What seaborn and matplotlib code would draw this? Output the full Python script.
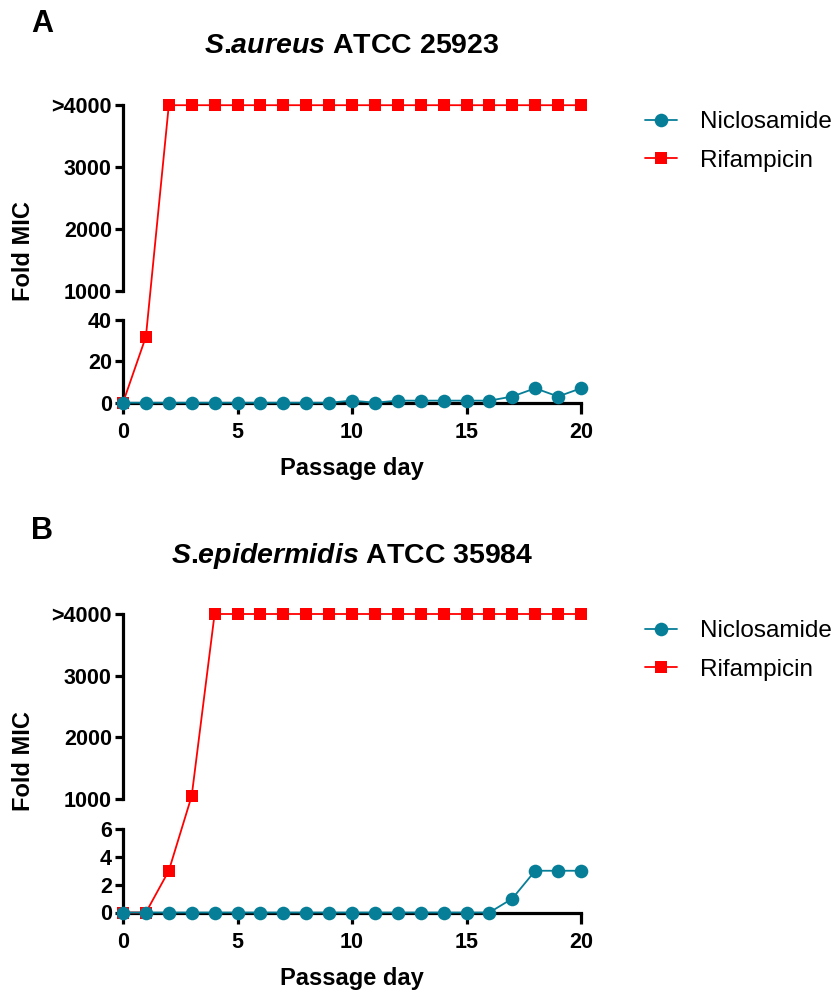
import numpy as np
import matplotlib
matplotlib.use("Agg")
import matplotlib.pyplot as plt
import seaborn as sns
from matplotlib.spines import Spine

# ---- data -------------------------------------------------------------
days = [0, 1, 2, 3, 4, 5, 6, 7, 8, 9, 10, 11, 12, 13, 14, 15, 16, 17, 18, 19, 20]

aureus_niclosamide = [0, 0, 0, 0, 0, 0, 0, 0, 0, 0, 1, 0, 1, 1, 1, 1, 1, 3, 7, 3, 7]
aureus_rifampicin = [0, 32, 4000, 4000, 4000, 4000, 4000, 4000, 4000, 4000, 4000,
                     4000, 4000, 4000, 4000, 4000, 4000, 4000, 4000, 4000, 4000]

epi_niclosamide = [0, 0, 0, 0, 0, 0, 0, 0, 0, 0, 0, 0, 0, 0, 0, 0, 0, 1, 3, 3, 3]
epi_rifampicin = [0, 0, 3, 1050, 4000, 4000, 4000, 4000, 4000, 4000, 4000,
                  4000, 4000, 4000, 4000, 4000, 4000, 4000, 4000, 4000, 4000]

aureus_yticks = [0, 20, 40, 1000, 2000, 3000, 4000]
aureus_ylabels = ["0", "20", "40", "1000", "2000", "3000", ">4000"]
epi_yticks = [0, 2, 4, 6, 1000, 2000, 3000, 4000]
epi_ylabels = ["0", "2", "4", "6", "1000", "2000", "3000", ">4000"]
x_ticks = [0, 5, 10, 15, 20]

series_names = ["Niclosamide", "Rifampicin"]

# ---- style ------------------------------------------------------------
sns.set_style("ticks")
plt.rcParams["font.family"] = ["Liberation Sans", "DejaVu Sans"]
plt.rcParams["mathtext.fontset"] = "custom"
plt.rcParams["mathtext.it"] = "Liberation Sans:italic:bold"
plt.rcParams["mathtext.rm"] = "Liberation Sans:bold"
for key in ("text.color", "axes.labelcolor", "xtick.color", "ytick.color",
            "axes.edgecolor"):
    plt.rcParams[key] = "black"

TEAL = "#077e97"
RED = "#ff0000"
SPINE_W = 2.3
TICK_FS = 15.5

W, H = 838, 994
fig = plt.figure(figsize=(W / 100, H / 100), dpi=100)


def broken_scale(lo_top, up_bot, up_top, lo_len, gap_len, up_len):
    """Piecewise-linear y scale: [0, lo_top] and [up_bot, up_top] with a gap."""
    xp = np.array([0.0, lo_top, up_bot, up_top])
    fp = np.array([0.0, lo_len, lo_len + gap_len, lo_len + gap_len + up_len])
    lo_slope = lo_len / lo_top
    up_slope = up_len / (up_top - up_bot)

    def fwd(y):
        y = np.asarray(y, dtype=float)
        out = np.interp(y, xp, fp)
        out = np.where(y < xp[0], y * lo_slope, out)
        out = np.where(y > xp[-1], fp[-1] + (y - xp[-1]) * up_slope, out)
        return out

    def inv(v):
        v = np.asarray(v, dtype=float)
        out = np.interp(v, fp, xp)
        out = np.where(v < fp[0], v / lo_slope, out)
        out = np.where(v > fp[-1], xp[-1] + (v - fp[-1]) / up_slope, out)
        return out

    return fwd, inv


def px_box(left, right, bottom, top):
    return [left / W, 1 - bottom / H, (right - left) / W, (bottom - top) / H]


def draw_panel(box, nic, rif, lo_top, lo_len, gap_len, up_len,
               yticks, ylabels, title, letter, letter_y, title_y,
               ylabel_y, xlabel_y, legend_top):
    ax = fig.add_axes(box)

    line_kw = dict(ax=ax, linewidth=1.3, clip_on=False, errorbar=None,
                   markeredgewidth=0, legend=False)
    sns.lineplot(x=days, y=rif, color=RED, marker="s", markersize=9.2,
                 markeredgecolor=RED, zorder=3, **line_kw)
    rif_line = ax.lines[-1]
    sns.lineplot(x=days, y=nic, color=TEAL, marker="o", markersize=9.8,
                 markeredgecolor=TEAL, zorder=4, **line_kw)
    nic_line = ax.lines[-1]

    ax.set_yscale("function",
                  functions=broken_scale(lo_top, 1000, 4000, lo_len, gap_len, up_len))
    ax.set_ylim(0, 4000)
    ax.set_xlim(0, 20)

    # axis lines: lower and upper segments of the broken y axis
    sns.despine(ax=ax)
    for side in ("left", "bottom"):
        ax.spines[side].set_linewidth(SPINE_W)
        ax.spines[side].set_color("black")
    ax.spines["left"].set_bounds(0, lo_top)
    upper = Spine.linear_spine(ax, "left")
    upper.set_linewidth(SPINE_W)
    upper.set_color("black")
    upper.set_bounds(1000, 4000)
    ax.spines["left_upper"] = upper

    ax.set_yticks(yticks)
    ax.set_yticklabels(ylabels, fontweight="bold", fontsize=TICK_FS)
    ax.set_xticks(x_ticks)
    ax.set_xticklabels([str(t) for t in x_ticks], fontweight="bold", fontsize=TICK_FS)
    ax.minorticks_off()
    ax.tick_params(axis="y", length=5.5, width=SPINE_W, pad=2.5,
                   color="black", labelcolor="black")
    ax.tick_params(axis="x", length=8, width=SPINE_W, pad=6,
                   color="black", labelcolor="black")

    ax.set_ylabel("Fold MIC", fontsize=17, fontweight="bold", va="center")
    ax.yaxis.set_label_coords(24 / W, 1 - ylabel_y / H, transform=fig.transFigure)
    ax.set_xlabel("Passage day", fontsize=17, fontweight="bold", va="center")
    ax.xaxis.set_label_coords(352 / W, 1 - xlabel_y / H, transform=fig.transFigure)

    fig.text(352 / W, 1 - title_y / H, title, fontsize=20.5, fontweight="bold",
             ha="center", va="center")
    fig.text(42 / W, 1 - letter_y / H, letter, fontsize=22, fontweight="bold",
             ha="center", va="center")

    ax.legend(handles=[nic_line, rif_line], labels=series_names,
              loc="upper left", bbox_to_anchor=(645 / W, 1 - legend_top / H),
              bbox_transform=fig.transFigure, frameon=False, fontsize=17.5,
              handlelength=1.3, handletextpad=0.95, labelspacing=0.68,
              borderpad=0, borderaxespad=0)
    return ax


draw_panel(px_box(123, 581, 402.7, 105.2), aureus_niclosamide, aureus_rifampicin,
           40, 82.5, 29.0, 186.0, aureus_yticks, aureus_ylabels,
           r"$\mathit{S}$.$\mathit{aureus}$ ATCC 25923", "A",
           letter_y=24, title_y=46, ylabel_y=251, xlabel_y=468, legend_top=111)

draw_panel(px_box(123, 581, 912.5, 614), epi_niclosamide, epi_rifampicin,
           6, 83.5, 30.0, 185.0, epi_yticks, epi_ylabels,
           r"$\mathit{S}$.$\mathit{epidermidis}$ ATCC 35984", "B",
           letter_y=531, title_y=556, ylabel_y=761, xlabel_y=978, legend_top=620)

fig.savefig("out.png", dpi=100)
